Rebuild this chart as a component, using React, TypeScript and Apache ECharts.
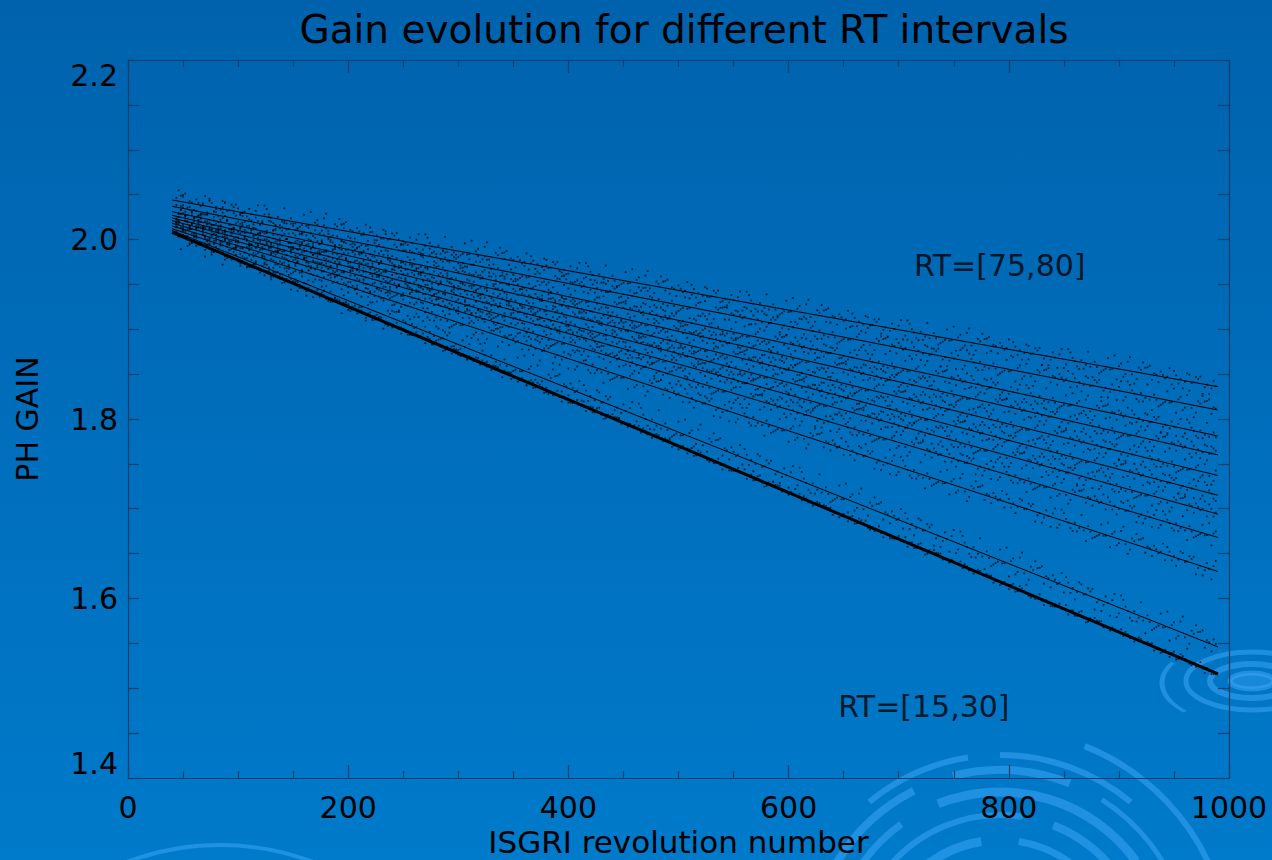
import React, { useEffect, useRef } from "react";
import * as echarts from "echarts";

// Linear gain fits, one per rise-time (RT) interval, from top (RT=[75,80]) to bottom (RT=[15,30])
const fitStartRevolution = 40;
const fitEndRevolution = 990;
const gainAtStart = [2.044, 2.037, 2.031, 2.027, 2.024, 2.021, 2.018, 2.015, 2.012, 2.010, 2.008];
const gainAtEnd = [1.836, 1.810, 1.781, 1.760, 1.737, 1.715, 1.694, 1.668, 1.630, 1.546, 1.516];
const fitLineWidths = [1, 1, 1, 1, 1, 1, 1, 1, 1, 1, 3];

// Per-revolution measurement scatter about each fit (thousandths of gain)
const firstMeasuredRevolution = 44;
const lastMeasuredRevolution = 988;
const revolutionStep = 2;
const residualsMilli = [
  3, -5, 8, -2, 0, 11, -7, 4, -1, -9, 6, 2, -4, 13, -3, 7, -6, 1, -11, 5, 9, -2, -8, 3, 0, -5, 12,
  -1, 6, -10, 2, -3, 8, -7, 4, 1, -13, 7, -4, 10, -6, 3, -1, 9, -9, 5, -2, 0, 14, -5, 2, -8, 6, -3,
  11, -1, -6, 4, -12, 8, 1, -4, 7, -7, 3, 10, -2, -10, 5, 0, -6, 9, -3,
];
const residualSpread = [1.1, 1.1, 1.0, 1.0, 1.0, 1.0, 1.0, 1.0, 1.1, 1.3, 0.4];

// Axis ticks
const xTickValues = [0, 200, 400, 600, 800, 1000];
const yTickValues = [1.4, 1.6, 1.8, 2.0, 2.2];

// Annotations
const rtLabels = [
  { text: "RT=[75,80]", revolution: 714, gain: 1.971 },
  { text: "RT=[15,30]", revolution: 645, gain: 1.48 },
];

const FONT = "DejaVu Sans, Verdana, sans-serif";
const AXIS_COLOR = "#133e6b";

function fitGain(k: number, rev: number) {
  const t = (rev - fitStartRevolution) / (fitEndRevolution - fitStartRevolution);
  return gainAtStart[k] + (gainAtEnd[k] - gainAtStart[k]) * t;
}

function buildOption(): echarts.EChartsOption {
  const series: any[] = [];

  gainAtStart.forEach((_, k) => {
    const dots: number[][] = [];
    let j = 0;
    for (let rev = firstMeasuredRevolution; rev <= lastMeasuredRevolution; rev += revolutionStep) {
      const r = residualsMilli[(j * 5 + k * 11) % residualsMilli.length];
      dots.push([rev, fitGain(k, rev) + r * 0.001 * residualSpread[k]]);
      j++;
    }
    series.push({
      type: "scatter",
      name: "measurements " + k,
      data: dots,
      symbol: "rect",
      symbolSize: 1.8,
      itemStyle: { color: "#000", opacity: 0.7 },
      silent: true,
      z: 2,
    });
  });

  gainAtStart.forEach((g0, k) => {
    series.push({
      type: "line",
      name: "fit " + k,
      data: [
        [fitStartRevolution, g0],
        [fitEndRevolution, gainAtEnd[k]],
      ],
      showSymbol: false,
      lineStyle: { color: "#000", width: fitLineWidths[k] },
      silent: true,
      z: 3,
    });
  });

  series.push({
    type: "scatter",
    name: "labels",
    data: rtLabels.map((l) => [l.revolution, l.gain, l.text]),
    symbolSize: 0,
    label: {
      show: true,
      position: "right",
      distance: 0,
      formatter: (p: any) => p.data[2],
      color: "#000",
      fontFamily: FONT,
      fontSize: 30,
    },
    silent: true,
    z: 4,
  });

  const xBase = {
    type: "value" as const,
    min: 0,
    max: 1000,
    interval: 200,
    splitLine: { show: false },
    axisLine: { show: true, onZero: false, lineStyle: { color: AXIS_COLOR, width: 1.2 } },
    axisTick: { show: true, inside: true, length: 13, lineStyle: { color: AXIS_COLOR, width: 1.2 } },
    minorTick: { show: true, splitNumber: 4, length: 7, lineStyle: { color: AXIS_COLOR, width: 1.2 } },
  };
  const yBase = {
    type: "value" as const,
    min: 1.4,
    max: 2.2,
    interval: 0.2,
    splitLine: { show: false },
    axisLine: { show: true, onZero: false, lineStyle: { color: AXIS_COLOR, width: 1.2 } },
    axisTick: { show: true, inside: true, length: 11, lineStyle: { color: AXIS_COLOR, width: 1.2 } },
    minorTick: { show: true, splitNumber: 4, length: 11, lineStyle: { color: AXIS_COLOR, width: 1.2 } },
  };

  const rippleColor = "rgba(70, 175, 255, 0.45)";
  const arc = (cx: number, cy: number, r: number, a0: number, a1: number, w: number, sy = 1) => ({
    type: "arc",
    shape: { cx, cy, r, startAngle: a0 * Math.PI, endAngle: a1 * Math.PI },
    originX: cx,
    originY: cy,
    scaleY: sy,
    style: { stroke: rippleColor, lineWidth: w, fill: "none" },
    silent: true,
    z: 0,
  });
  const ellipse = (cx: number, cy: number, rx: number, ry: number, w: number, fill?: string) => ({
    type: "ellipse",
    shape: { cx, cy, rx, ry },
    style: { stroke: rippleColor, lineWidth: w, fill: fill || "none" },
    silent: true,
    z: 0,
  });

  return {
    animation: false,
    backgroundColor: {
      type: "linear",
      x: 0,
      y: 0,
      x2: 0,
      y2: 1,
      colorStops: [
        { offset: 0, color: "#0062ad" },
        { offset: 1, color: "#007aca" },
      ],
    } as any,
    title: {
      text: "Gain evolution for different RT intervals",
      left: 679,
      top: 5,
      textAlign: "center",
      textStyle: { color: "#000", fontFamily: FONT, fontSize: 39, fontWeight: "normal" },
    },
    grid: {
      left: 128,
      right: 43,
      top: 60,
      bottom: 82,
      containLabel: false,
      outerBoundsMode: "none",
    } as any,
    graphic: [
      // large ripple at the bottom
      arc(1000, 960, 205, 1.28, 1.45, 6),
      arc(1000, 960, 205, 1.5, 1.72, 6),
      arc(1000, 960, 190, 1.15, 1.35, 8),
      arc(1000, 960, 190, 1.42, 1.62, 8),
      arc(1000, 960, 190, 1.68, 1.9, 5),
      arc(1000, 960, 168, 1.1, 1.3, 7),
      arc(1000, 960, 168, 1.38, 1.8, 9),
      arc(1000, 960, 145, 1.2, 1.55, 6),
      arc(1000, 960, 145, 1.62, 1.95, 8),
      arc(1000, 960, 120, 1.15, 1.45, 9),
      arc(1000, 960, 120, 1.55, 1.85, 7),
      arc(1000, 960, 96, 1.25, 1.75, 8),
      arc(1000, 960, 230, 1.62, 1.9, 6),
      // faint arc at the bottom left
      arc(220, 1110, 265, 1.28, 1.72, 4),
      // small ripple at the right edge
      ellipse(1252, 681, 22, 8, 5, "rgba(70, 175, 255, 0.35)"),
      ellipse(1252, 681, 42, 17, 6),
      ellipse(1252, 681, 66, 29, 5),
      arc(1262, 683, 100, 0.78, 1.15, 5, 0.45),
    ] as any,
    xAxis: [
      {
        ...xBase,
        position: "bottom",
        name: "ISGRI revolution number",
        nameLocation: "middle",
        nameGap: 47,
        nameTextStyle: { color: "#000", fontFamily: FONT, fontSize: 31 },
        axisLabel: {
          color: "#000",
          fontFamily: FONT,
          fontSize: 30,
          margin: 14,
          customValues: xTickValues,
          formatter: (v: number) => String(v),
        },
      },
      { ...xBase, position: "top", axisLabel: { show: false } },
    ],
    yAxis: [
      {
        ...yBase,
        position: "left",
        name: "PH GAIN",
        nameLocation: "middle",
        nameRotate: 90,
        nameGap: 86,
        nameTextStyle: { color: "#000", fontFamily: FONT, fontSize: 30 },
        axisLabel: {
          color: "#000",
          fontFamily: FONT,
          fontSize: 30,
          margin: 10,
          customValues: yTickValues,
          formatter: (v: number) => v.toFixed(1),
          verticalAlignMinLabel: "bottom",
          verticalAlignMaxLabel: "top",
        } as any,
      },
      { ...yBase, position: "right", axisLabel: { show: false } },
    ],
    series,
  };
}

export default function App() {
  const ref = useRef<HTMLDivElement>(null);

  useEffect(() => {
    document.body.style.margin = "0";
    if (!ref.current) return;
    const chart = echarts.init(ref.current, undefined, { renderer: "svg" });
    chart.setOption(buildOption());
    return () => chart.dispose();
  }, []);

  return <div ref={ref} style={{ width: 1272, height: 860 }} />;
}
